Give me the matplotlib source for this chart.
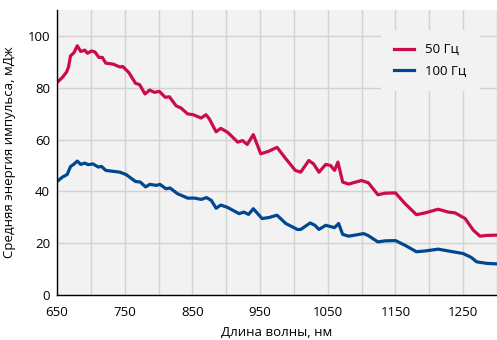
import matplotlib
matplotlib.use("Agg")
import matplotlib.pyplot as plt
from matplotlib.ticker import MultipleLocator

plt.rcParams['font.family'] = ['Open Sans', 'DejaVu Sans']

# 50 Hz series
wl_50 = [650, 658, 664, 667, 670, 675, 680, 685, 691, 695, 701, 706, 712, 717, 722, 733, 743, 747,
         756, 766, 772, 780, 787, 794, 801, 810, 816, 826, 833, 843, 851, 863, 870, 875, 885, 892,
         902, 917, 924, 931, 940, 951, 963, 975, 988, 1002, 1010, 1022, 1029, 1037, 1047, 1054,
         1060, 1065, 1072, 1081, 1090, 1100, 1110, 1124, 1135, 1150, 1164, 1181, 1194, 1213, 1228,
         1238, 1253, 1265, 1275, 1285, 1300]
e_50 = [82, 84, 86, 88, 92.3, 93.5, 96.2, 94, 94.5, 93.3, 94.2, 93.8, 91.7, 91.7, 89.5, 89.1, 88, 88.2,
        85.9, 81.7, 81.2, 77.6, 79.1, 78.2, 78.6, 76.3, 76.5, 73, 72.2, 69.9, 69.6, 68.3, 69.6, 68, 63, 64.3,
        62.8, 59, 59.6, 58.1, 61.9, 54.5, 55.5, 57, 52.6, 48.1, 47.4, 51.9, 50.6, 47.4, 50.4, 50,
        48.1, 51.3, 43.6, 42.8, 43.5, 44.2, 43.3, 38.7, 39.3, 39.4, 35.3, 31, 31.7, 33.1, 32,
        31.7, 29.5, 25, 22.7, 23, 23.1]

# 100 Hz series
wl_100 = [650, 658, 665, 670, 675, 680, 685, 691, 696, 703, 711, 716, 722, 743, 752, 766, 773, 781,
          787, 797, 802, 811, 817, 828, 843, 853, 863, 871, 878, 885, 892, 902, 919, 926, 933, 940,
          953, 963, 975, 988, 1005, 1010, 1024, 1031, 1037, 1047, 1060, 1066, 1072, 1081, 1092, 1103,
          1110, 1124, 1135, 1150, 1164, 1181, 1194, 1213, 1228, 1250, 1262, 1270, 1285, 1300]
e_100 = [43.8, 45.5, 46.5, 49.6, 50.5, 51.7, 50.4, 50.9, 50.3, 50.6, 49.4, 49.6, 48.1, 47.4, 46.5, 43.8, 43.6, 41.7,
         42.7, 42.3, 42.7, 41, 41.3, 39.1, 37.4, 37.4, 36.9, 37.6, 36.5, 33.5, 34.7, 33.8, 31.4, 32, 31.1, 33.3,
         29.5, 29.9, 30.8, 27.6, 25.3, 25.3, 27.8, 26.9, 25.3, 26.9, 26, 27.6, 23.4, 22.7, 23.2, 23.7,
         22.9, 20.5, 20.9, 21, 19.2, 16.7, 17, 17.7, 17, 16, 14.5, 12.8, 12.2, 12]

x_ticks = [650, 750, 850, 950, 1050, 1150, 1250]
y_ticks = [0, 20, 40, 60, 80, 100]
labels = ['50 Гц', '100 Гц']

fig = plt.figure(figsize=(4.97, 3.40), dpi=100)
ax = fig.add_axes([57/497, 1-295/340, 1-57/497, (295-10)/340])
bg = '#f2f2f2'
ax.set_facecolor(bg)

ax.plot(wl_50, e_50, color='#cc0a4e', lw=2.3, label=labels[0], solid_joinstyle='round')
ax.plot(wl_100, e_100, color='#00478f', lw=2.3, label=labels[1], solid_joinstyle='round')

ax.set_xlim(650, 1300)
ax.set_ylim(0, 110)
ax.set_xticks(x_ticks)
ax.set_yticks(y_ticks)
ax.xaxis.set_minor_locator(MultipleLocator(50))
ax.grid(True, which='both', color='#d2d2d2', lw=1.0)
ax.set_axisbelow(True)
ax.tick_params(which='both', length=0, labelsize=9.5)
ax.tick_params(axis='x', pad=8)
ax.tick_params(axis='y', pad=5)

for s in ['top', 'right']:
    ax.spines[s].set_visible(False)
for s in ['left', 'bottom']:
    ax.spines[s].set_color('black')
    ax.spines[s].set_linewidth(1.0)

ax.set_xlabel('Длина волны, нм', fontsize=9.5, labelpad=5)
ax.set_ylabel('Средняя энергия импульса, мДж', fontsize=9.5, labelpad=8)

leg = ax.legend(loc='upper right', bbox_to_anchor=(0.961, 0.93), frameon=True, fontsize=9.5,
                handlelength=1.5, handletextpad=0.9, labelspacing=0.65, borderpad=1.0,
                borderaxespad=0)
leg.get_frame().set_facecolor(bg)
leg.get_frame().set_edgecolor('none')
leg.get_frame().set_alpha(1.0)
leg.get_frame().set_boxstyle('square', pad=0)

fig.savefig('out.png', dpi=100)
